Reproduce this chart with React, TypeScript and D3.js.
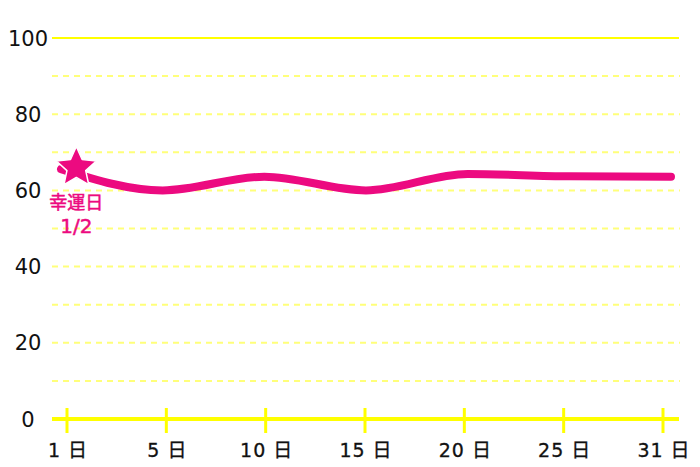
import React, { useRef, useEffect } from 'react';
import * as d3 from 'd3';

const dayLabels = ['1', '5', '10', '15', '20', '25', '31'];
const dayNumbers = [1, 5, 10, 15, 20, 25, 31];
const values = [65.6, 60, 63.6, 60, 64.3, 63.7, 63.6];
const yTicks = [0, 20, 40, 60, 80, 100];
const dashedTicks = [10, 30, 50, 70, 90, 20, 40, 60, 80];
const luckyDay = 2;
const luckyValue = 66;
const luckyLabel = ['幸運日', '1/2'];

const PINK = '#ec0a80';
const YELLOW = '#ffff00';
const PALE = '#ffff7a';
const FONT = '"DejaVu Sans", "Noto Sans CJK JP", sans-serif';

const App: React.FC = () => {
  const ref = useRef<SVGSVGElement | null>(null);

  useEffect(() => {
    const svg = d3.select(ref.current);
    svg.selectAll('*').remove();

    const y = d3.scaleLinear().domain([0, 100]).range([419, 38]);
    const xTick = d3.scalePoint<string>().domain(dayLabels).range([67, 663]);
    const xLine = d3.scalePoint<string>().domain(dayLabels).range([61, 671]);
    const xDay = d3.scaleLinear().domain([dayNumbers[0], dayNumbers[dayNumbers.length - 1]]).range([61, 671]);

    const gridLeft = 52;
    const gridRight = 680;

    // dashed minor grid
    svg.append('g')
      .selectAll('line')
      .data(dashedTicks)
      .join('line')
      .attr('x1', gridLeft)
      .attr('x2', gridRight)
      .attr('y1', d => y(d))
      .attr('y2', d => y(d))
      .attr('stroke', PALE)
      .attr('stroke-width', 2)
      .attr('stroke-dasharray', '6 5');

    // top solid line
    svg.append('line')
      .attr('x1', gridLeft)
      .attr('x2', gridRight - 1)
      .attr('y1', y(100))
      .attr('y2', y(100))
      .attr('stroke', YELLOW)
      .attr('stroke-width', 2);

    // x axis
    svg.append('line')
      .attr('x1', gridLeft)
      .attr('x2', gridRight - 1)
      .attr('y1', y(0))
      .attr('y2', y(0))
      .attr('stroke', YELLOW)
      .attr('stroke-width', 4);

    svg.append('g')
      .selectAll('line')
      .data(dayLabels)
      .join('line')
      .attr('x1', d => xTick(d)!)
      .attr('x2', d => xTick(d)!)
      .attr('y1', y(0) - 11)
      .attr('y2', y(0) + 14)
      .attr('stroke', YELLOW)
      .attr('stroke-width', 3);

    svg.append('g')
      .selectAll('text')
      .data(dayLabels)
      .join('text')
      .attr('x', d => xTick(d)! + 1)
      .attr('y', 457)
      .attr('text-anchor', 'middle')
      .attr('font-family', FONT)
      .attr('font-size', 19)
      .attr('letter-spacing', 1)
      .attr('fill', '#111')
      .attr('stroke', '#111')
      .attr('stroke-width', 0.3)
      .text(d => `${d} 日`);

    // y labels
    svg.append('g')
      .selectAll('text')
      .data(yTicks)
      .join('text')
      .attr('x', 28)
      .attr('y', d => y(d) + 7.5)
      .attr('text-anchor', 'middle')
      .attr('font-family', FONT)
      .attr('font-size', 21)
      .attr('fill', '#111')
      .text(d => d);

    // line
    const line = d3.line<number>()
      .x((_, i) => xLine(dayLabels[i])!)
      .y(d => y(d))
      .curve(d3.curveMonotoneX);

    svg.append('path')
      .datum(values)
      .attr('d', line)
      .attr('fill', 'none')
      .attr('stroke', PINK)
      .attr('stroke-width', 8)
      .attr('stroke-linecap', 'round')
      .attr('stroke-linejoin', 'round');

    // lucky star
    const sx = xDay(luckyDay) - 5;
    const sy = y(luckyValue);
    const R = 21;
    const r = R * 0.47;
    const pts: [number, number][] = d3.range(10).map(i => {
      const a = -Math.PI / 2 + i * Math.PI / 5;
      const rad = i % 2 === 0 ? R : r;
      return [sx + rad * Math.cos(a), sy + rad * Math.sin(a)];
    });
    svg.append('polygon')
      .attr('points', pts.map(p => p.join(',')).join(' '))
      .attr('fill', PINK)
      .attr('stroke', '#fff')
      .attr('stroke-width', 1.5)
      .attr('stroke-linejoin', 'round');

    svg.append('g')
      .selectAll('text')
      .data(luckyLabel)
      .join('text')
      .attr('x', sx)
      .attr('y', (_, i) => sy + 41 + i * 24)
      .attr('text-anchor', 'middle')
      .attr('font-family', FONT)
      .attr('font-size', (_, i) => (i === 0 ? 18 : 20))
      .attr('fill', PINK)
      .attr('stroke', PINK)
      .attr('stroke-width', 0.5)
      .text(d => d);
  }, []);

  return (
    <svg
      ref={ref}
      width={700}
      height={467}
      style={{ position: 'absolute', left: 0, top: 0, background: '#fff' }}
    />
  );
};

export default App;
